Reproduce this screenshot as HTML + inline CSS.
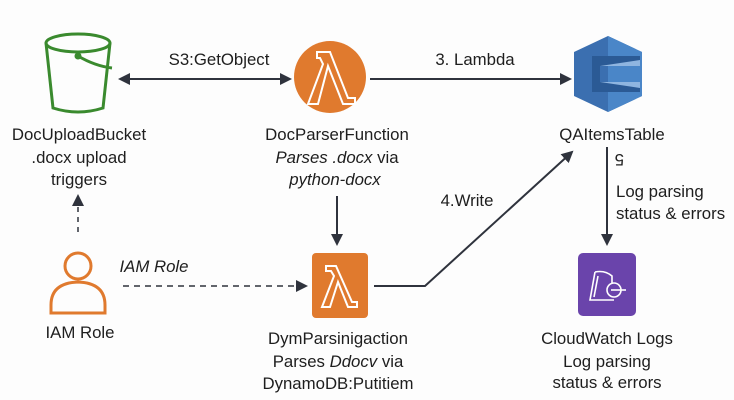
<!DOCTYPE html>
<html><head><meta charset="utf-8"><style>
body{margin:0;background:#fdfdfd;}
svg{display:block;font-family:"Liberation Sans","DejaVu Sans",sans-serif;}
text{fill:#1e1e1e;font-size:16.8px;}
</style></head><body>
<svg width="734" height="400" viewBox="0 0 734 400">
<defs><marker id="a" markerWidth="12" markerHeight="12" refX="10" refY="6" orient="auto" markerUnits="userSpaceOnUse"><path d="M0,0L12,6L0,12z" fill="#2f333d"/></marker>
<marker id="b" markerWidth="12" markerHeight="12" refX="2" refY="6" orient="auto" markerUnits="userSpaceOnUse"><path d="M12,0L0,6L12,12z" fill="#2f333d"/></marker></defs>
<rect width="734" height="400" fill="#fdfdfd"/>
<g fill="none" stroke="#3a8a2e" stroke-width="3">
<ellipse cx="78" cy="43" rx="32" ry="9"/>
<path d="M46,43 L53,108 Q78,116 103,108 L110,43"/>
<path d="M78,56 Q95,66 112,68"/><circle cx="78" cy="56" r="2" fill="#3a8a2e"/>
</g>
<line x1="120" y1="79" x2="290" y2="79" stroke="#2f333d" stroke-width="2" marker-start="url(#b)" marker-end="url(#a)"/>
<text x="219" y="65" text-anchor="middle">S3:GetObject</text>
<line x1="370" y1="79" x2="570" y2="79" stroke="#2f333d" stroke-width="2" marker-end="url(#a)"/>
<text x="475" y="65" text-anchor="middle">3. Lambda</text>
<circle cx="330" cy="77" r="36" fill="#e07a2e"/>
<path d="M317,52 L330,52 L348,98 L355,98 L355,104 L343,104 L328,66 L318,104 L308,104 L323,64 L320,58 L317,58z" fill="none" stroke="#fff" stroke-width="2"/>
<path d="M608,36 L642,52 L642,96 L608,112 L574,96 L574,52z" fill="#3b6fb0"/>
<path d="M608,36 L642,52 L642,96 L608,112z" fill="#4a86c8"/>
<path d="M592,56 L640,56 L640,66 L600,66 L600,82 L640,82 L640,92 L592,92z" fill="#2b5a95"/>
<path d="M600,66 L640,60 L640,66z M600,82 L640,88 L640,82z" fill="#8fb5e0"/>
<text x="79" y="140" text-anchor="middle">DocUploadBucket</text>
<text x="79" y="163" text-anchor="middle">.docx upload</text>
<text x="79" y="185" text-anchor="middle">triggers</text>
<text x="337" y="140" text-anchor="middle">DocParserFunction</text>
<text x="337" y="163" text-anchor="middle" font-style="italic">Parses .docx <tspan font-style="normal">via</tspan></text>
<text x="335" y="185" text-anchor="middle" font-style="italic">python-docx</text>
<text x="612" y="140" text-anchor="middle">QAItemsTable</text>
<line x1="337" y1="196" x2="337" y2="244" stroke="#2f333d" stroke-width="2" marker-end="url(#a)"/>
<line x1="78" y1="232" x2="78" y2="196" stroke="#2f333d" stroke-width="1.5" stroke-dasharray="5,5" marker-end="url(#a)"/>
<line x1="607" y1="147" x2="607" y2="244" stroke="#2f333d" stroke-width="2" marker-end="url(#a)"/>
<text x="618" y="164" transform="rotate(180 621 159)">5</text>
<text x="616" y="197">Log parsing</text>
<text x="616" y="219">status &amp; errors</text>
<g fill="none" stroke="#e07a2e" stroke-width="3">
<circle cx="78" cy="266" r="13"/>
<path d="M51,313 L51,305 Q51,283 78,282 Q105,283 105,305 L105,313z"/>
</g>
<text x="80" y="338" text-anchor="middle">IAM Role</text>
<line x1="123" y1="286" x2="306" y2="286" stroke="#2f333d" stroke-width="1.5" stroke-dasharray="6,5" marker-end="url(#a)"/>
<text x="154" y="272" text-anchor="middle" font-style="italic">IAM Role</text>
<rect x="312" y="253" width="56" height="65" rx="4" fill="#e07a2e"/>
<path d="M326,266 L336,266 L352,302 L357,302 L357,307 L348,307 L338,282 L330,307 L322,307 L334,276 L331,271 L326,271z" fill="none" stroke="#fff" stroke-width="2"/>
<polyline points="374,286 425,286 572,152" fill="none" stroke="#2f333d" stroke-width="2" marker-end="url(#a)"/>
<text x="467" y="206" text-anchor="middle">4.Write</text>
<rect x="578" y="253" width="58" height="63" rx="5" fill="#6a44ab"/>
<g fill="none" stroke="#fff" stroke-width="1.6">
<path d="M595,272 L590,300 L614,300 M595,272 Q605,270 612,276 L612,284"/>
<path d="M598,276 L594,297"/>
<circle cx="614" cy="290" r="7"/><line x1="611" y1="290" x2="626" y2="290"/>
</g>
<text x="607" y="344" text-anchor="middle">CloudWatch Logs</text>
<text x="607" y="367" text-anchor="middle">Log parsing</text>
<text x="607" y="388" text-anchor="middle">status &amp; errors</text>
<text x="338" y="344" text-anchor="middle">DymParsinigaction</text>
<text x="338" y="367" text-anchor="middle">Parses <tspan font-style="italic">Ddocv</tspan> via</text>
<text x="338" y="389" text-anchor="middle">DynamoDB:Putitiem</text>
</svg>
</body></html>
